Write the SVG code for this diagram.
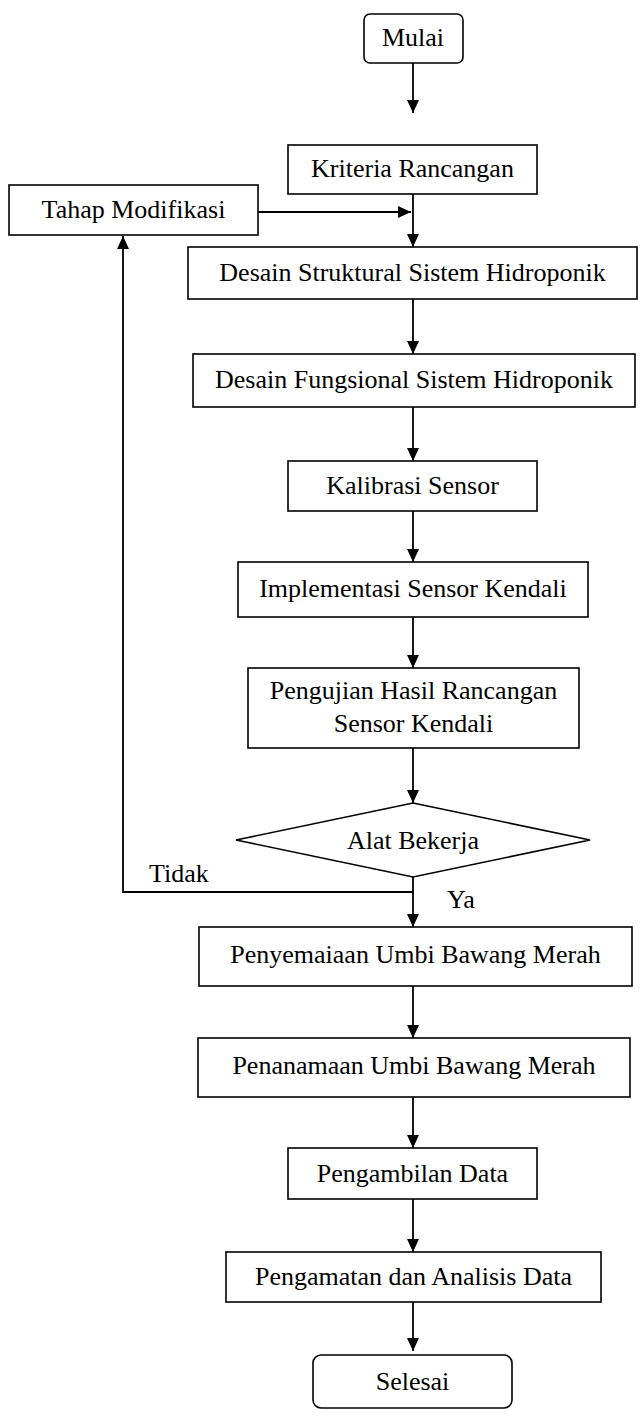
<svg xmlns="http://www.w3.org/2000/svg" width="643" height="1416" viewBox="0 0 643 1416">
<style>
.box{fill:#fff;stroke:#000;stroke-width:1.6}
.t{font-family:"Liberation Serif","Times New Roman",serif;font-size:26px;fill:#000;text-anchor:middle}
.tl{font-family:"Liberation Serif","Times New Roman",serif;font-size:26px;fill:#000}
.c{fill:none;stroke:#000;stroke-width:1.8}
</style>
<defs>
<marker id="ah" markerUnits="userSpaceOnUse" markerWidth="14" markerHeight="14" viewBox="0 0 14 14" refX="13" refY="7" orient="auto">
<path d="M0,1 L13,7 L0,13 z" fill="#000"/>
</marker>
</defs>
<rect width="643" height="1416" fill="#fff"/>
<g id="connectors">
<line class="c" x1="413" y1="63" x2="413" y2="113" marker-end="url(#ah)"/>
<line class="c" x1="413" y1="194" x2="413" y2="247" marker-end="url(#ah)"/>
<line class="c" x1="258" y1="212" x2="411" y2="212" marker-end="url(#ah)"/>
<line class="c" x1="413" y1="299" x2="413" y2="354" marker-end="url(#ah)"/>
<line class="c" x1="413" y1="407" x2="413" y2="461" marker-end="url(#ah)"/>
<line class="c" x1="413" y1="511" x2="413" y2="562" marker-end="url(#ah)"/>
<line class="c" x1="413" y1="617" x2="413" y2="668" marker-end="url(#ah)"/>
<line class="c" x1="413" y1="748" x2="413" y2="803" marker-end="url(#ah)"/>
<line class="c" x1="413" y1="877" x2="413" y2="927" marker-end="url(#ah)"/>
<polyline class="c" points="413,892 123,892 123,236" marker-end="url(#ah)"/>
<line class="c" x1="413" y1="986" x2="413" y2="1038" marker-end="url(#ah)"/>
<line class="c" x1="413" y1="1097" x2="413" y2="1148" marker-end="url(#ah)"/>
<line class="c" x1="413" y1="1199" x2="413" y2="1252" marker-end="url(#ah)"/>
<line class="c" x1="413" y1="1302" x2="413" y2="1351" marker-end="url(#ah)"/>
<text class="tl" x="149" y="882">Tidak</text>
<text class="tl" x="447" y="908">Ya</text>
</g>
<g id="mulai"><rect class="box" x="364" y="14" width="99" height="49" rx="6"/><text class="t" x="413" y="46">Mulai</text></g>
<g id="kriteria"><rect class="box" x="288" y="145" width="249" height="49"/><text class="t" x="412.5" y="177">Kriteria Rancangan</text></g>
<g id="tahap"><rect class="box" x="9" y="185" width="249" height="50"/><text class="t" x="133.5" y="218">Tahap Modifikasi</text></g>
<g id="struktural"><rect class="box" x="188" y="247" width="449" height="52"/><text class="t" x="412.5" y="281">Desain Struktural Sistem Hidroponik</text></g>
<g id="fungsional"><rect class="box" x="193" y="354" width="442" height="53"/><text class="t" x="414" y="388">Desain Fungsional Sistem Hidroponik</text></g>
<g id="kalibrasi"><rect class="box" x="288" y="461" width="249" height="50"/><text class="t" x="412.5" y="494">Kalibrasi Sensor</text></g>
<g id="implementasi"><rect class="box" x="238" y="562" width="350" height="55"/><text class="t" x="413" y="597">Implementasi Sensor Kendali</text></g>
<g id="pengujian"><rect class="box" x="248" y="668" width="331" height="80"/><text class="t" x="413.5" y="699">Pengujian Hasil Rancangan</text><text class="t" x="413.5" y="732">Sensor Kendali</text></g>
<g id="alat"><polygon class="box" points="413,803 590,840 413,877 236,840"/><text class="t" x="413" y="849">Alat Bekerja</text></g>
<g id="penyemaiaan"><rect class="box" x="199" y="927" width="433" height="59"/><text class="t" x="415.5" y="963">Penyemaiaan Umbi Bawang Merah</text></g>
<g id="penanamaan"><rect class="box" x="198" y="1038" width="432" height="59"/><text class="t" x="414" y="1074">Penanamaan Umbi Bawang Merah</text></g>
<g id="pengambilan"><rect class="box" x="288" y="1148" width="249" height="51"/><text class="t" x="412.5" y="1182">Pengambilan Data</text></g>
<g id="pengamatan"><rect class="box" x="226" y="1252" width="375" height="50"/><text class="t" x="413.5" y="1285">Pengamatan dan Analisis Data</text></g>
<g id="selesai"><rect class="box" x="313" y="1355" width="199" height="53" rx="8"/><text class="t" x="412.5" y="1390">Selesai</text></g>
</svg>
